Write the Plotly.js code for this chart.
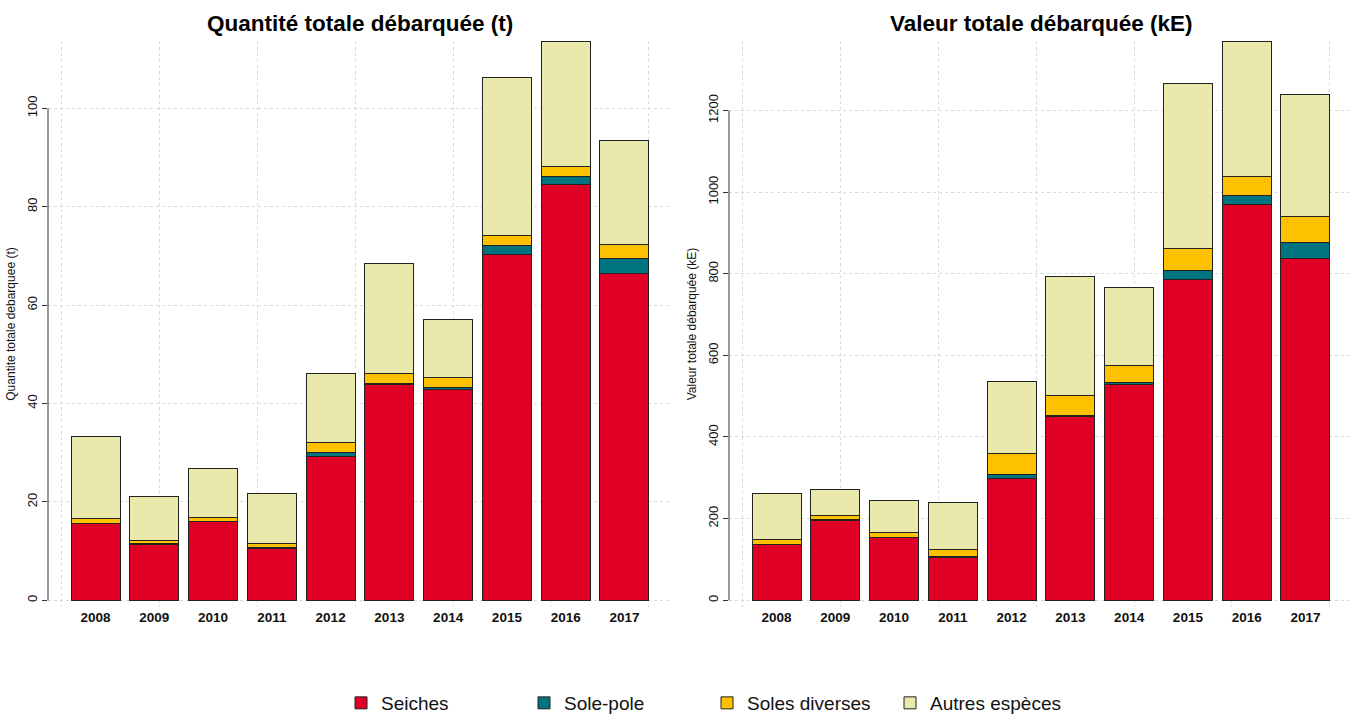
<!DOCTYPE html>
<html>
<head>
<meta charset="utf-8">
<script src="https://cdn.plot.ly/plotly-3.0.1.min.js"></script>
<style>html,body{margin:0;padding:0;background:#fff;}#chart{width:1357px;height:715px;}</style>
</head>
<body>
<div id="chart"></div>
<script>
// ---- data ----
const years = ['2008','2009','2010','2011','2012','2013','2014','2015','2016','2017'];
const seriesNames = ['Seiches','Sole-pole','Soles diverses','Autres espèces'];
const seriesColors = ['#E00026','#007380','#FDC100','#E8E9AB'];

// Quantité totale débarquée (t)
const seichesQ  = [15.7, 11.4, 16.1, 10.6, 29.3, 43.8, 42.9, 70.2, 84.5, 66.5];
const solePoleQ = [0.0, 0.1, 0.0, 0.1, 0.8, 0.2, 0.3, 1.9, 1.7, 3.0];
const solesDivQ = [0.9, 0.6, 0.7, 0.9, 2.0, 2.1, 2.1, 2.1, 1.9, 2.8];
const autresQ   = [16.6, 8.9, 10.0, 10.2, 14.0, 22.3, 11.7, 32.0, 25.6, 21.1];

// Valeur totale débarquée (kE)
const seichesV  = [136, 196, 153, 106, 298, 450, 529, 787, 969, 837];
const solePoleV = [1, 1, 0, 2, 9, 3, 4, 22, 22, 39];
const solesDivV = [11, 11, 14, 16, 53, 49, 43, 53, 47, 63];
const autresV   = [114, 63, 77, 116, 177, 291, 191, 405, 332, 301];

const yTicksQ = [0, 20, 40, 60, 80, 100];
const yTicksV = [0, 200, 400, 600, 800, 1000, 1200];

// ---- build ----
const qSeries = [seichesQ, solePoleQ, solesDivQ, autresQ];
const vSeries = [seichesV, solePoleV, solesDivV, autresV];

function totals(arrs){ return years.map((_,i)=>arrs.reduce((s,a)=>s+a[i],0)); }
const maxQ = Math.max(...totals(qSeries));
const maxV = Math.max(...totals(vSeries));

const traces = [];
qSeries.forEach((vals, k) => {
  traces.push({type:'bar', x: years, y: vals, name: seriesNames[k], legendgroup: seriesNames[k],
    marker:{color: seriesColors[k], line:{color:'#222', width:1}}, xaxis:'x', yaxis:'y', showlegend:true});
});
vSeries.forEach((vals, k) => {
  traces.push({type:'bar', x: years, y: vals, name: seriesNames[k], legendgroup: seriesNames[k],
    marker:{color: seriesColors[k], line:{color:'#222', width:1}}, xaxis:'x2', yaxis:'y2', showlegend:false});
});
// empty traces to activate grid overlay axes
traces.push({type:'scatter', x:[], y:[], xaxis:'x3', yaxis:'y', showlegend:false, hoverinfo:'skip'});
traces.push({type:'scatter', x:[], y:[], xaxis:'x4', yaxis:'y2', showlegend:false, hoverinfo:'skip'});

const W = 1357, H = 715;
const domL = [48/W, 672/W];
const domR = [729/W, 1353/W];
const domY = [1-607/H, 1-41/H];

const gridCol = '#d9d9d9';
const fontF = 'Arial, "Liberation Sans", sans-serif';

function xCat(domain, anchor){
  return {domain, anchor, type:'category', range:[-0.81, 9.81], showgrid:false, zeroline:false,
    showline:false, ticks:'', tickfont:{family:fontF, size:13.5, color:'#111', weight:'bold'}, ticklen:0, automargin:false};
}
function xGrid(domain, overlay, anchor){
  return {domain, overlaying: overlay, anchor, type:'linear', range:[-0.272, 12.472], tick0:0, dtick:2,
    showgrid:true, gridcolor:gridCol, griddash:'dot', gridwidth:1, showticklabels:false, ticks:'', zeroline:false, showline:false};
}
function yAx(domain, anchor, maxv, ticks, title){
  return {domain, anchor, range:[-0.012*maxv, maxv], tickvals: ticks, ticktext: ticks.map(String),
    showgrid:true, gridcolor:gridCol, griddash:'dot', gridwidth:1, zeroline:false, showline:false,
    ticks:'outside', ticklen:5, tickcolor:'#333', tickangle:-90,
    tickfont:{family:fontF, size:13, color:'#111'},
    title:{text:title, font:{family:fontF, size:12, color:'#111'}, standoff:6}, automargin:false};
}

const layout = {
  width: W, height: H, autosize:false,
  margin:{l:0, r:0, t:0, b:0, autoexpand:false},
  paper_bgcolor:'#fff', plot_bgcolor:'rgba(0,0,0,0)',
  barmode:'stack', bargap: 1/6,
  font:{family:fontF, color:'#111'},
  xaxis: xCat(domL, 'y'),
  xaxis2: xCat(domR, 'y2'),
  xaxis3: xGrid(domL, 'x', 'y'),
  xaxis4: xGrid(domR, 'x2', 'y2'),
  yaxis: yAx(domY, 'x', maxQ, yTicksQ, 'Quantite totale debarquee (t)'),
  yaxis2: yAx(domY, 'x2', maxV, yTicksV, 'Valeur totale débarquée (kE)'),
  showlegend:true,
  legend:{orientation:'h', x:341/W, xanchor:'left', y:1-703/H, yanchor:'middle', bgcolor:'rgba(0,0,0,0)',
    font:{family:fontF, size:19, color:'#111'}, traceorder:'normal', entrywidth:138, entrywidthmode:'pixels'},
  annotations:[
    {text:'<b>Quantité totale débarquée (t)</b>', xref:'paper', yref:'paper', x:(domL[0]+domL[1])/2, y:1-24/H,
      xanchor:'center', yanchor:'middle', showarrow:false, font:{family:fontF, size:22.5, color:'#000'}},
    {text:'<b>Valeur totale débarquée (kE)</b>', xref:'paper', yref:'paper', x:(domR[0]+domR[1])/2, y:1-24/H,
      xanchor:'center', yanchor:'middle', showarrow:false, font:{family:fontF, size:22.5, color:'#000'}}
  ],
  shapes:[
    {type:'line', xref:'x domain', yref:'y', x0:0, x1:0, y0:yTicksQ[0], y1:yTicksQ[yTicksQ.length-1], line:{color:'#333', width:1}},
    {type:'line', xref:'x2 domain', yref:'y2', x0:0, x1:0, y0:yTicksV[0], y1:yTicksV[yTicksV.length-1], line:{color:'#333', width:1}}
  ]
};

Plotly.newPlot('chart', traces, layout, {displayModeBar:false, staticPlot:true});
</script>
</body>
</html>
